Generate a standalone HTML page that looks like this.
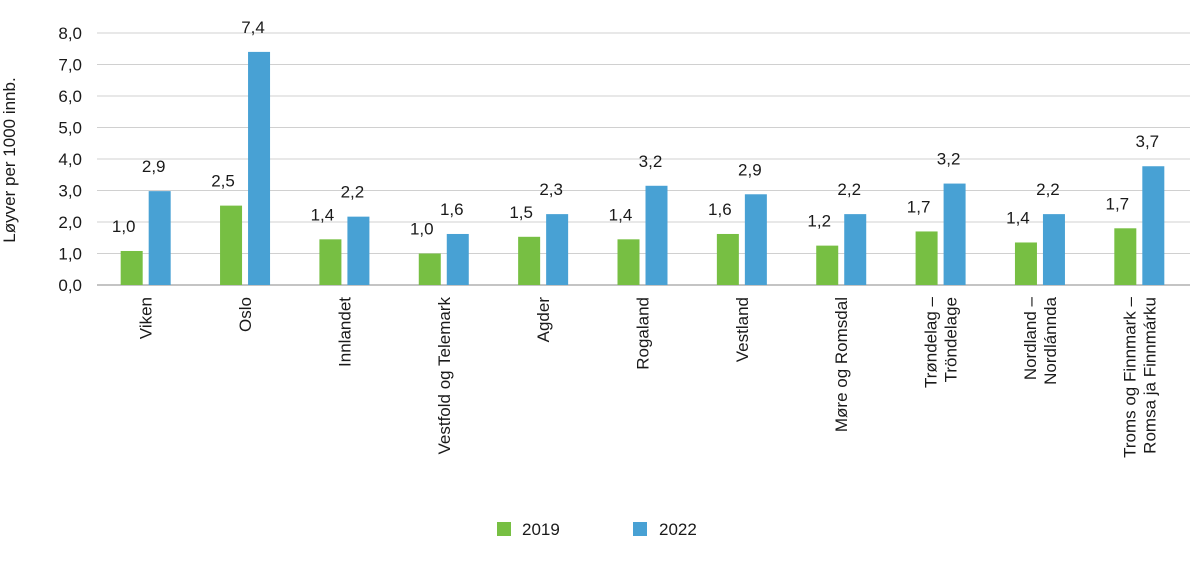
<!DOCTYPE html>
<html><head><meta charset="utf-8"><style>
body{margin:0;background:#fff;}
svg text{font-family:"Liberation Sans",sans-serif;fill:#1a1a1a;}
</style></head><body>
<svg width="1200" height="558" viewBox="0 0 1200 558">
<g id="grid"></g>
<g id="yt"></g>
<g id="bars"></g>
<g id="xl"></g>
<text transform="translate(15,160) rotate(-90)" text-anchor="middle" font-size="17">Løyver per 1000 innb.</text>
<g>
<rect x="497" y="522" width="14" height="14" fill="#77bf43"/>
<text x="522" y="535" font-size="17">2019</text>
<rect x="633" y="522" width="14" height="14" fill="#48a1d4"/>
<text x="659" y="535" font-size="17">2022</text>
</g>
</svg>
<script>
const categories=[["Viken"],["Oslo"],["Innlandet"],["Vestfold og Telemark"],["Agder"],["Rogaland"],["Vestland"],["Møre og Romsdal"],["Trøndelag –","Tröndelage"],["Nordland –","Nordlánnda"],["Troms og Finnmark –","Romsa ja Finnmárku"]];
const values2019=[1.08,2.52,1.45,1.0,1.53,1.45,1.62,1.25,1.7,1.35,1.8];
const values2022=[2.98,7.4,2.17,1.62,2.25,3.15,2.88,2.25,3.22,2.25,3.77];
const labels2019=["1,0","2,5","1,4","1,0","1,5","1,4","1,6","1,2","1,7","1,4","1,7"];
const labels2022=["2,9","7,4","2,2","1,6","2,3","3,2","2,9","2,2","3,2","2,2","3,7"];
const yTicks=[0,1,2,3,4,5,6,7,8];
const yTickLabels=["0,0","1,0","2,0","3,0","4,0","5,0","6,0","7,0","8,0"];
const NS="http://www.w3.org/2000/svg";
const x0=97,x1=1190,y0=285,yTop=33,yMax=8;
const y=v=>y0-(v/yMax)*(y0-yTop);
const step=(x1-x0)/categories.length;
function mk(tag,attrs,parent,txt){const e=document.createElementNS(NS,tag);for(const k in attrs)e.setAttribute(k,attrs[k]);if(txt!==undefined)e.textContent=txt;document.getElementById(parent).appendChild(e);return e;}
yTicks.forEach((t,i)=>{
 const g=mk('line',{x1:x0,x2:x1,y1:y(t),y2:y(t),stroke:t===0?'#888':'#d0d0d0','stroke-width':1},'grid');
 
 
 const l=mk('text',{x:82,y:y(t)+6,'text-anchor':'end','font-size':17},'yt',yTickLabels[i]);
 
 
});
categories.forEach((c,i)=>{
 const cx=x0+step*i+step/2;
 const bw=22;
 const g1=mk('rect',{x:cx-bw-4,y:y(values2019[i]),width:bw,height:y0-y(values2019[i]),fill:'#77bf43'},'bars');
 
 
 const b1=mk('rect',{x:cx+2,y:y(values2022[i]),width:bw,height:y0-y(values2022[i]),fill:'#48a1d4'},'bars');
 
 
 const t1=mk('text',{x:cx-23,y:y(values2019[i])-19,'text-anchor':'middle','font-size':17},'bars',labels2019[i]);
 
 
 const t2=mk('text',{x:cx+7,y:y(values2022[i])-19,'text-anchor':'middle','font-size':17},'bars',labels2022[i]);
 
 
 const n=c.length;
 c.forEach((line,j)=>{
  const lx=cx+5+(j-(n-1)/2)*20;
  const t=mk('text',{transform:`translate(${lx},297) rotate(-90)`,'text-anchor':'end','font-size':17},'xl',line);
  
  
 });
});
</script>
</body></html>
